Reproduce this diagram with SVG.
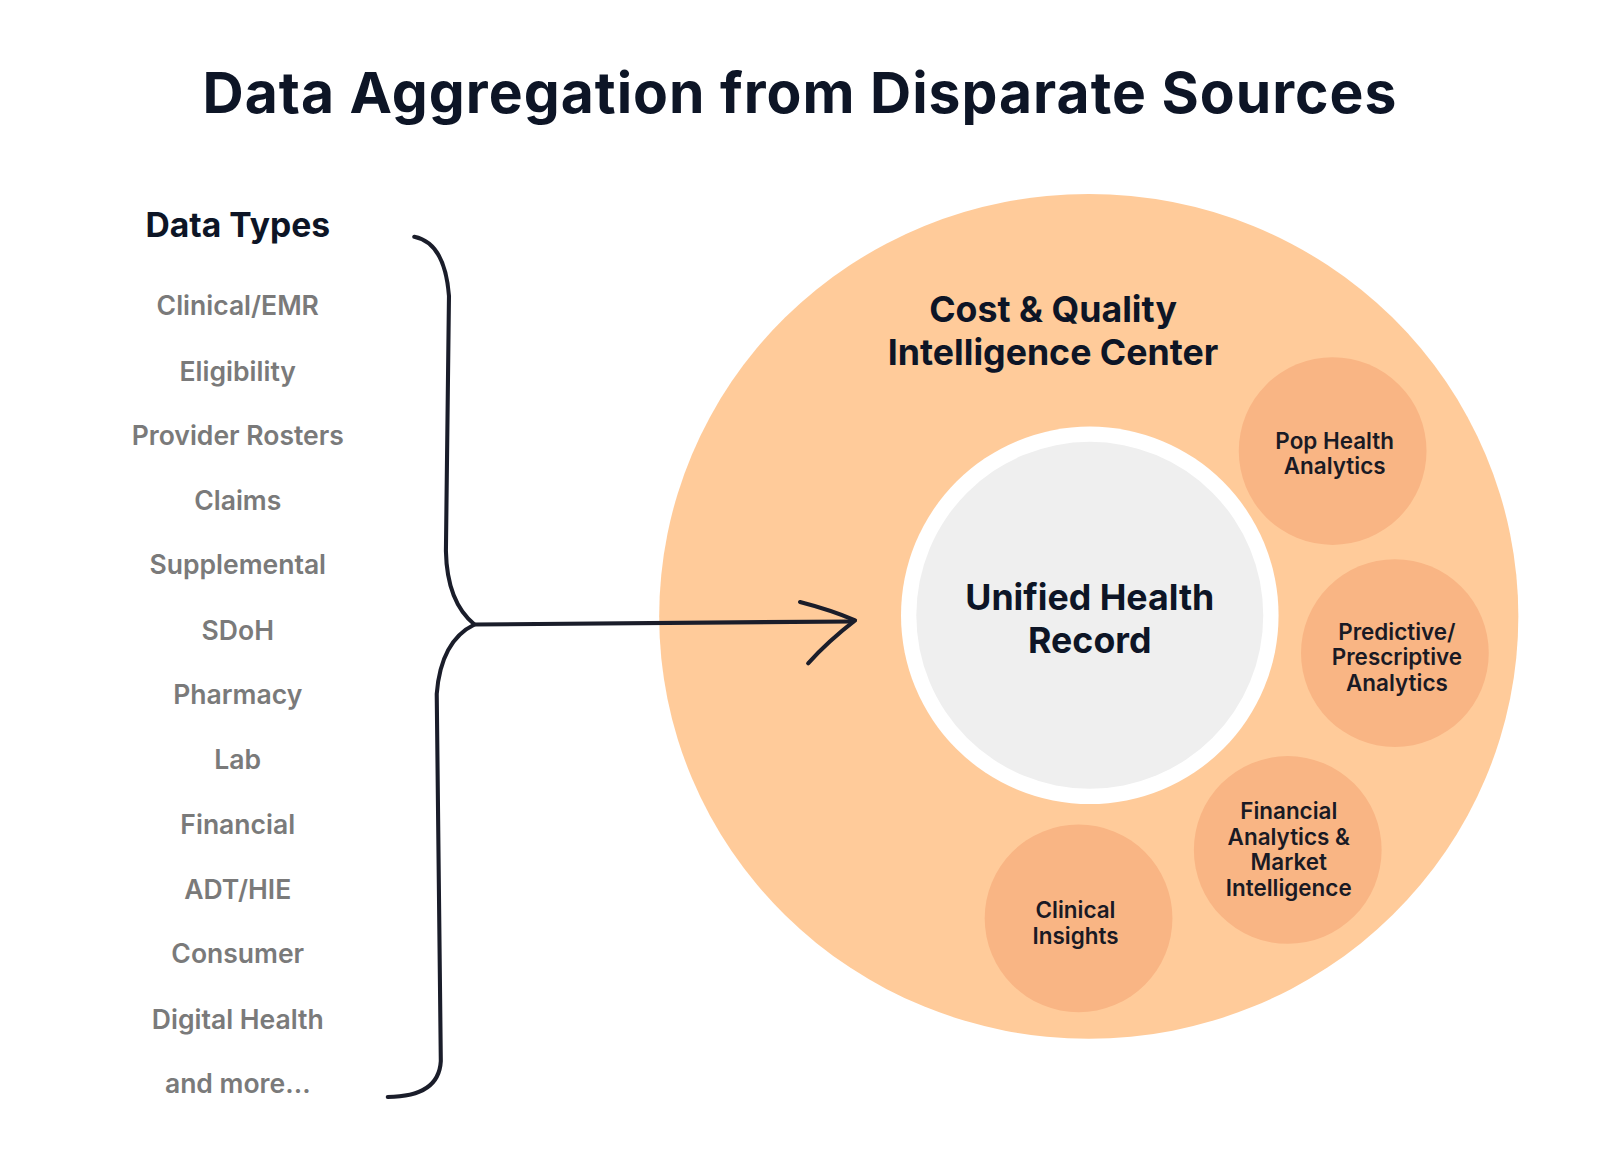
<svg xmlns="http://www.w3.org/2000/svg" width="1600" height="1175" viewBox="0 0 1600 1175">
<style>
.t{font-family:Inter,"Liberation Sans",sans-serif;text-anchor:middle}
.item{font-size:26px;font-weight:600;fill:#7a7a7a}
.sm{font-size:22px;font-weight:600;fill:#1a1a24}
.ln{fill:none;stroke:#1a1d2a;stroke-width:4;stroke-linecap:round;stroke-linejoin:round}
</style>
<rect width="1600" height="1175" fill="#fff"/>
<text class="t" x="800" y="113" font-size="57" font-weight="700" fill="#0d1526" letter-spacing="1">Data Aggregation from Disparate Sources</text>
<g transform="scale(1.0204)">
<g id="data-types">
<text class="t" x="233" y="232" font-size="33" font-weight="700" fill="#0d1526">Data Types</text>
<text class="t item" x="233" y="309">Clinical/EMR</text>
<text class="t item" x="233" y="373">Eligibility</text>
<text class="t item" x="233" y="436">Provider Rosters</text>
<text class="t item" x="233" y="500">Claims</text>
<text class="t item" x="233" y="563">Supplemental</text>
<text class="t item" x="233" y="627">SDoH</text>
<text class="t item" x="233" y="690">Pharmacy</text>
<text class="t item" x="233" y="754">Lab</text>
<text class="t item" x="233" y="817">Financial</text>
<text class="t item" x="233" y="881">ADT/HIE</text>
<text class="t item" x="233" y="944">Consumer</text>
<text class="t item" x="233" y="1008">Digital Health</text>
<text class="t item" x="233" y="1071">and more...</text>
</g>
<g id="center">
<ellipse cx="1067" cy="604" rx="421" ry="414" fill="#ffcb9a"/>
<text class="t" x="1032" y="316" font-size="35" font-weight="700" fill="#0d1526">Cost &amp; Quality</text>
<text class="t" x="1032" y="358" font-size="35" font-weight="700" fill="#0d1526">Intelligence Center</text>
</g>
<g id="uhr">
<circle cx="1068" cy="603" r="185" fill="#fff"/>
<circle cx="1068" cy="603" r="170" fill="#efefef"/>
<text class="t" x="1068" y="598" font-size="35" font-weight="700" fill="#0d1526">Unified Health</text>
<text class="t" x="1068" y="640" font-size="35" font-weight="700" fill="#0d1526">Record</text>
</g>
<g id="pop">
<circle cx="1306" cy="442" r="92" fill="#f9b584"/>
<text class="t sm" x="1308" y="440">Pop Health</text>
<text class="t sm" x="1308" y="465">Analytics</text>
</g>
<g id="pred">
<circle cx="1367" cy="640" r="92" fill="#f9b584"/>
<text class="t sm" x="1369" y="627">Predictive/</text>
<text class="t sm" x="1369" y="652">Prescriptive</text>
<text class="t sm" x="1369" y="677">Analytics</text>
</g>
<g id="fin">
<circle cx="1262" cy="833" r="92" fill="#f9b584"/>
<text class="t sm" x="1263" y="803">Financial</text>
<text class="t sm" x="1263" y="828">Analytics &amp;</text>
<text class="t sm" x="1263" y="853">Market</text>
<text class="t sm" x="1263" y="878">Intelligence</text>
</g>
<g id="clin">
<circle cx="1057" cy="900" r="92" fill="#f9b584"/>
<text class="t sm" x="1054" y="900">Clinical</text>
<text class="t sm" x="1054" y="925">Insights</text>
</g>
<g id="connectors">
<path class="ln" d="M406 232 Q436 238 440 290 L437 540 Q438 590 465 612 Q432 628 428 680 L432 1040 Q430 1075 380 1075"/>
<path class="ln" d="M465 612 L836 609"/>
<path class="ln" d="M784 590 Q815 598 838 608 Q812 628 792 650"/>
</g>
</g>
</svg>
